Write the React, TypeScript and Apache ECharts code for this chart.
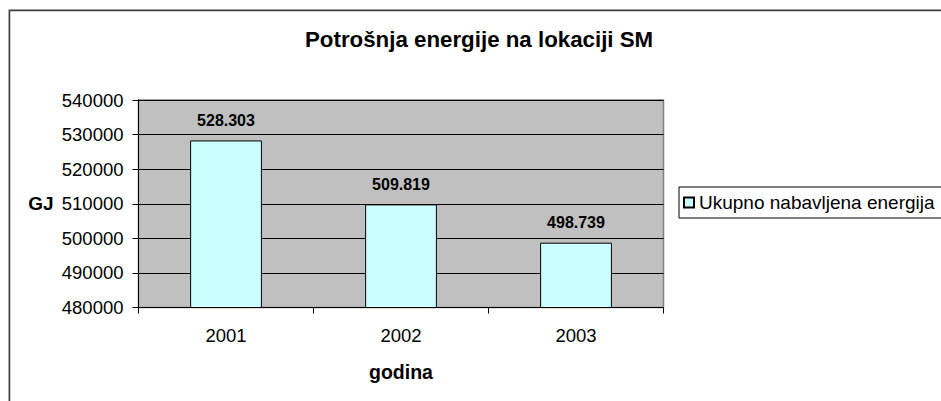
import React, { useEffect, useRef } from "react";
import * as echarts from "echarts";

const categories = ["2001", "2002", "2003"];
const seriesName = "Ukupno nabavljena energija";
const values = [528303, 509819, 498739];
const chartTitle = "Potrošnja energije na lokaciji SM";
const yAxisName = "GJ";
const xAxisName = "godina";
const yMin = 480000;
const yMax = 540000;
const yStep = 10000;

const FONT = "'Liberation Sans', Arial, sans-serif";

function fmtThousands(v: number): string {
  return String(v).replace(/\B(?=(\d{3})+(?!\d))/g, ".");
}

export default function App() {
  const ref = useRef<HTMLDivElement>(null);

  useEffect(() => {
    if (!ref.current) return;
    const chart = echarts.init(ref.current, undefined, { renderer: "svg" });
    chart.setOption({
      animation: false,
      backgroundColor: "#ffffff",
      textStyle: { fontFamily: FONT, color: "#000" },
      title: {
        text: chartTitle,
        left: 305,
        top: 28.5,
        padding: 0,
        textStyle: { fontFamily: FONT, fontSize: 22.3, fontWeight: "bold", color: "#000" },
      },
      legend: {
        left: 679,
        top: 187,
        orient: "vertical",
        padding: [6, 14, 6, 4],
        borderColor: "#000",
        borderWidth: 1,
        borderRadius: 0,
        itemWidth: 10,
        itemHeight: 10,
        icon: "rect",
        data: [seriesName],
        textStyle: { fontFamily: FONT, fontSize: 19, color: "#000" },
      },
      graphic: [
        {
          type: "rect",
          shape: { x: 9.4, y: 10.3, width: 1200, height: 1200 },
          style: { fill: "none", stroke: "#404040", lineWidth: 1.7 },
          silent: true,
          z: -10,
        },
      ],
      grid: {
        left: 138.5,
        top: 100,
        width: 525,
        height: 207.5,
        show: true,
        backgroundColor: "#C0C0C0",
        borderColor: "#808080",
        borderWidth: 1.5,
        containLabel: false,
      },
      xAxis: {
        type: "category",
        data: categories,
        boundaryGap: true,
        name: xAxisName,
        nameLocation: "middle",
        nameGap: 54,
        nameTextStyle: { fontFamily: FONT, fontSize: 19.5, fontWeight: "bold", color: "#000" },
        axisLine: { show: true, lineStyle: { color: "#000", width: 1 } },
        axisTick: { show: true, length: 6, alignWithLabel: false, lineStyle: { color: "#000" } },
        axisLabel: { margin: 18, fontFamily: FONT, fontSize: 18.5, color: "#000" },
        splitLine: { show: false },
      },
      yAxis: {
        type: "value",
        min: yMin,
        max: yMax,
        interval: yStep,
        name: yAxisName,
        nameLocation: "middle",
        nameRotate: 0,
        nameGap: 85,
        nameTextStyle: { fontFamily: FONT, fontSize: 19, fontWeight: "bold", color: "#000", align: "right", verticalAlign: "middle" },
        axisLine: { show: true, lineStyle: { color: "#000", width: 1 } },
        axisTick: { show: true, length: 6, lineStyle: { color: "#000" } },
        axisLabel: {
          margin: 15,
          fontFamily: FONT,
          fontSize: 18.5,
          color: "#000",
          formatter: (v: number) => String(v),
        },
        splitLine: { show: true, lineStyle: { color: "#000", width: 1 } },
      },
      series: [
        {
          name: seriesName,
          type: "bar",
          data: values,
          barCategoryGap: "59%",
          itemStyle: { color: "#CCFFFF", borderColor: "#000", borderWidth: 1 },
          label: {
            show: true,
            position: "top",
            distance: 12,
            fontFamily: FONT,
            fontSize: 16,
            fontWeight: "bold",
            color: "#000",
            formatter: (p: any) => fmtThousands(p.value),
          },
        },
      ],
    });
    return () => chart.dispose();
  }, []);

  return (
    <div
      ref={ref}
      style={{ position: "absolute", left: 0, top: 0, width: 941, height: 401 }}
    />
  );
}
